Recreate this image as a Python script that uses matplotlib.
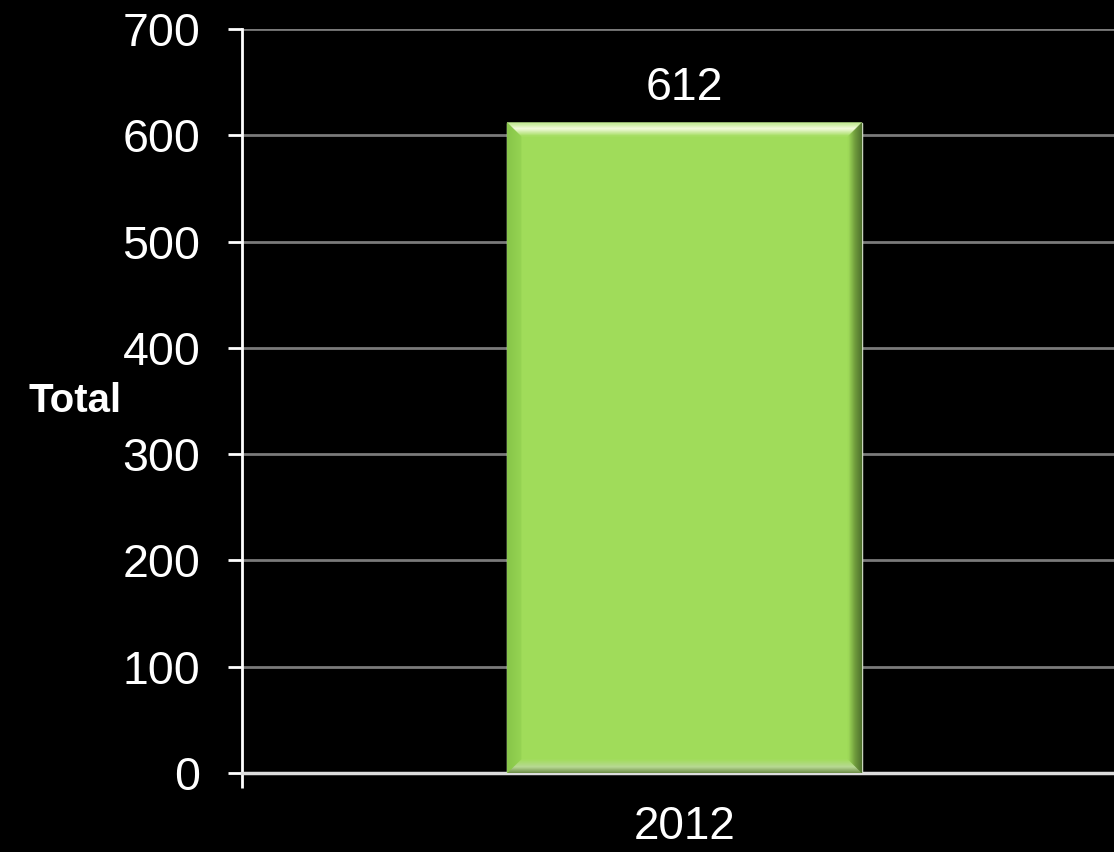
import matplotlib
matplotlib.use("Agg")
import matplotlib.pyplot as plt
import numpy as np
from matplotlib.patches import Polygon
from matplotlib.colors import to_rgb

categories = ["2012"]
values = [612]
y_ticks = [0, 100, 200, 300, 400, 500, 600, 700]
y_label = "Total"

plt.rcParams['font.family'] = ['Liberation Sans', 'DejaVu Sans']

fig = plt.figure(figsize=(11.14, 8.52), dpi=100, facecolor='black')
ax = fig.add_axes([242/1114, 79/852, 872/1114, 744/852])
ax.set_facecolor('black')

xpos = np.arange(len(categories))
main = '#a0dc5a'
bars = ax.bar(xpos, values, width=0.407, color=main, edgecolor='#e8f0e0', linewidth=1.0, zorder=3)

ax.set_xlim(-0.5075, 0.4925)
ax.set_ylim(0, 700)
ax.set_yticks(y_ticks)
ax.set_yticklabels([str(t) for t in y_ticks], color='white', fontsize=33.5)
ax.set_xticks(xpos)
ax.set_xticklabels(categories, color='white', fontsize=33)
ax.tick_params(axis='x', which='major', length=0, pad=23)
ax.set_xticks([ax.get_xlim()[0]], minor=True)
ax.tick_params(axis='x', which='minor', length=11, width=2, color='white', direction='out')
ax.tick_params(axis='y', length=10, width=2, color='white', pad=20)

ax.grid(axis='y', color='#7a7a7a', linewidth=2, zorder=0)
ax.set_axisbelow(True)
for s in ['top', 'right']:
    ax.spines[s].set_visible(False)
ax.spines['left'].set_color('white')
ax.spines['left'].set_linewidth(2)
ax.spines['bottom'].set_color('#dddddd')
ax.spines['bottom'].set_linewidth(2.5)

ax.set_ylabel(y_label, rotation=0, fontsize=29, fontweight='bold', color='white', ha='right', va='center')
ax.yaxis.set_label_coords(-0.138, 0.5)

# bevel decoration on each bar
def blend(c1, c2, t):
    a = np.array(to_rgb(c1)); b = np.array(to_rgb(c2))
    return tuple(a + (b - a) * t)

def grad_colors(stops, t):
    for (p0, c0), (p1, c1) in zip(stops[:-1], stops[1:]):
        if p0 <= t <= p1:
            return blend(c0, c1, (t - p0) / (p1 - p0) if p1 > p0 else 0)
    return to_rgb(stops[-1][1])

inv = ax.transData.inverted()
bev = 14
n = 14
for rect in bars:
    x0d, y0d = rect.get_x(), rect.get_y()
    x1d, y1d = x0d + rect.get_width(), y0d + rect.get_height()
    (X0, Y0) = ax.transData.transform((x0d, y0d))
    (X1, Y1) = ax.transData.transform((x1d, y1d))
    sides = {
        'top': [(0, '#b8e880'), (0.45, '#fcffec'), (1, main)],
        'left': [(0, '#86c448'), (1, '#94d252')],
        'right': [(0, '#4e6e2c'), (0.5, '#6e9a3c'), (1, main)],
        'bottom': [(0, '#6a8a44'), (0.45, '#b8d894'), (1, main)],
    }
    for i in range(n):
        a = bev * i / n
        b = bev * (i + 1) / n
        t = (i + 0.5) / n
        polys = {
            'top': [(X0 + a, Y1 - a), (X1 - a, Y1 - a), (X1 - b, Y1 - b), (X0 + b, Y1 - b)],
            'bottom': [(X0 + a, Y0 + a), (X1 - a, Y0 + a), (X1 - b, Y0 + b), (X0 + b, Y0 + b)],
            'left': [(X0 + a, Y0 + a), (X0 + a, Y1 - a), (X0 + b, Y1 - b), (X0 + b, Y0 + b)],
            'right': [(X1 - a, Y0 + a), (X1 - a, Y1 - a), (X1 - b, Y1 - b), (X1 - b, Y0 + b)],
        }
        for side, pts in polys.items():
            col = grad_colors(sides[side], t)
            dpts = inv.transform(np.array(pts))
            ax.add_patch(Polygon(dpts, closed=True, facecolor=col, edgecolor=col,
                                 linewidth=0.3, zorder=4))

for rect, v in zip(bars, values):
    ax.annotate(str(v), (rect.get_x() + rect.get_width() / 2, v), xytext=(0, 13),
                textcoords='offset pixels', ha='center', va='bottom', color='white', fontsize=33.5)

fig.savefig('out.png', dpi=100, facecolor='black')
